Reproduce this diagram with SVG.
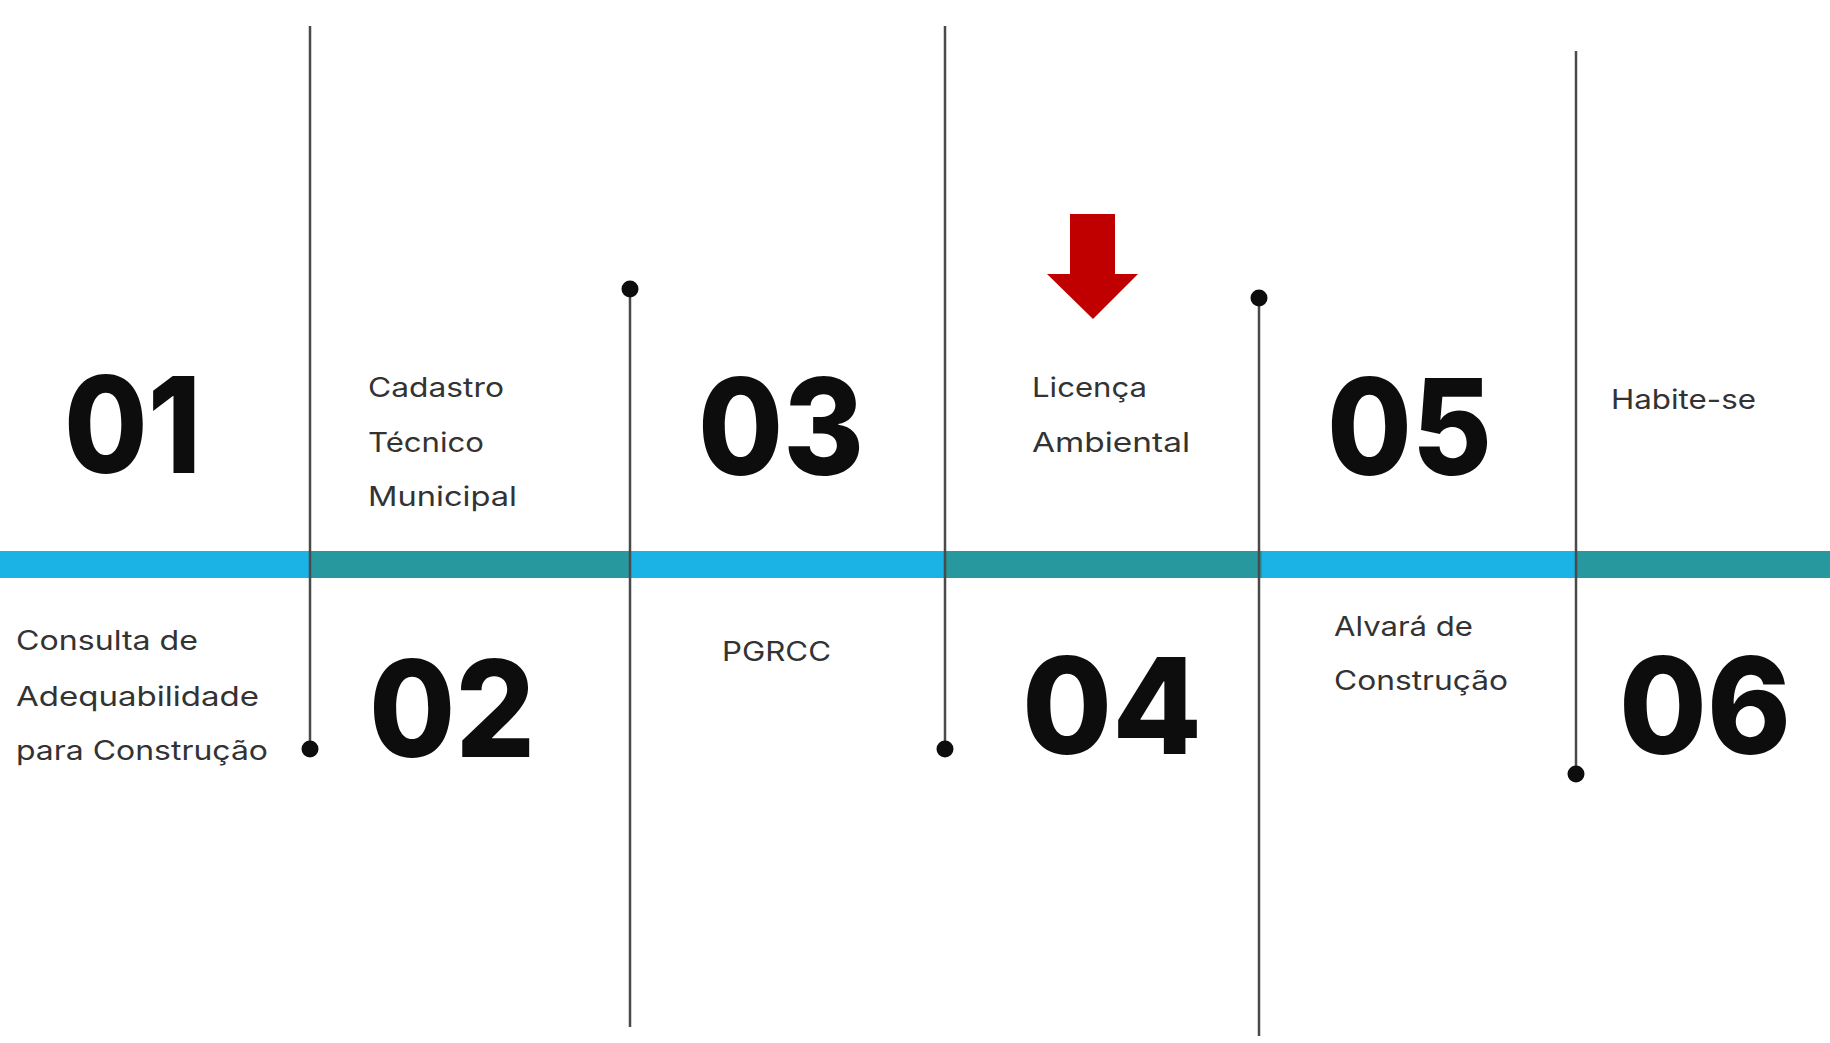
<svg xmlns="http://www.w3.org/2000/svg" width="1830" height="1043" viewBox="0 0 1830 1043">
  <style>
    .num { font-family: Inter, "Open Sans", "Liberation Sans", sans-serif; font-weight: 800; font-size: 134px; fill: #0d0d0d; }
    .lbl { font-family: Inter, "Open Sans", "Liberation Sans", sans-serif; font-weight: 400; font-size: 27px; fill: #333333; }
    .stem { stroke: #4a4a4a; stroke-width: 2.5; fill: none; }
    .dot { fill: #0d0d0d; }
    .blue { fill: #1bb3e6; }
    .teal { fill: #26989e; }
  </style>
  <rect width="1830" height="1043" fill="#ffffff"/>

  <!-- timeline band -->
  <g id="band">
    <rect class="blue" x="0" y="551" width="310" height="27"/>
    <rect class="teal" x="310" y="551" width="320" height="27"/>
    <rect class="blue" x="630" y="551" width="315" height="27"/>
    <rect class="teal" x="945" y="551" width="317" height="27"/>
    <rect class="blue" x="1262" y="551" width="314" height="27"/>
    <rect class="teal" x="1576" y="551" width="254" height="27"/>
  </g>

  <!-- vertical stems with end dots -->
  <g id="connectors">
    <line class="stem" x1="310" y1="26" x2="310" y2="749"/>
    <circle class="dot" cx="310" cy="749" r="8.5"/>
    <line class="stem" x1="630" y1="289" x2="630" y2="1027"/>
    <circle class="dot" cx="630" cy="289" r="8.5"/>
    <line class="stem" x1="945" y1="26" x2="945" y2="749"/>
    <circle class="dot" cx="945" cy="749" r="8.5"/>
    <line class="stem" x1="1259" y1="298" x2="1259" y2="1036"/>
    <circle class="dot" cx="1259" cy="298" r="8.5"/>
    <line class="stem" x1="1576" y1="51" x2="1576" y2="774"/>
    <circle class="dot" cx="1576" cy="774" r="8.5"/>
  </g>

  <g id="step-01">
    <text class="num" x="64" y="473" textLength="137" lengthAdjust="spacingAndGlyphs">01</text>
    <text class="lbl" x="16" y="650" textLength="182" lengthAdjust="spacingAndGlyphs">Consulta de</text>
    <text class="lbl" x="16" y="706" textLength="243" lengthAdjust="spacingAndGlyphs">Adequabilidade</text>
    <text class="lbl" x="16" y="760" textLength="252" lengthAdjust="spacingAndGlyphs">para Construção</text>
  </g>

  <g id="step-02">
    <text class="num" x="369" y="757" textLength="166" lengthAdjust="spacingAndGlyphs">02</text>
    <text class="lbl" x="368" y="397" textLength="136" lengthAdjust="spacingAndGlyphs">Cadastro</text>
    <text class="lbl" x="368" y="452" textLength="116" lengthAdjust="spacingAndGlyphs">Técnico</text>
    <text class="lbl" x="368" y="506" textLength="149" lengthAdjust="spacingAndGlyphs">Municipal</text>
  </g>

  <g id="step-03">
    <text class="num" x="698" y="475" textLength="166" lengthAdjust="spacingAndGlyphs">03</text>
    <text class="lbl" x="722" y="661" textLength="109" lengthAdjust="spacingAndGlyphs">PGRCC</text>
  </g>

  <g id="step-04">
    <text class="num" x="1022" y="754" textLength="180" lengthAdjust="spacingAndGlyphs">04</text>
    <text class="lbl" x="1032" y="397" textLength="115" lengthAdjust="spacingAndGlyphs">Licença</text>
    <text class="lbl" x="1032" y="452" textLength="158" lengthAdjust="spacingAndGlyphs">Ambiental</text>
    <!-- highlight arrow -->
    <polygon fill="#c00000" points="1070,214 1115,214 1115,274 1138,274 1093,319 1047,274 1070,274"/>
  </g>

  <g id="step-05">
    <text class="num" x="1327" y="475" textLength="165" lengthAdjust="spacingAndGlyphs">05</text>
    <text class="lbl" x="1334" y="636" textLength="139" lengthAdjust="spacingAndGlyphs">Alvará de</text>
    <text class="lbl" x="1334" y="690" textLength="174" lengthAdjust="spacingAndGlyphs">Construção</text>
  </g>

  <g id="step-06">
    <text class="num" x="1619" y="754" textLength="172" lengthAdjust="spacingAndGlyphs">06</text>
    <text class="lbl" x="1611" y="409" textLength="145" lengthAdjust="spacingAndGlyphs">Habite-se</text>
  </g>
</svg>
